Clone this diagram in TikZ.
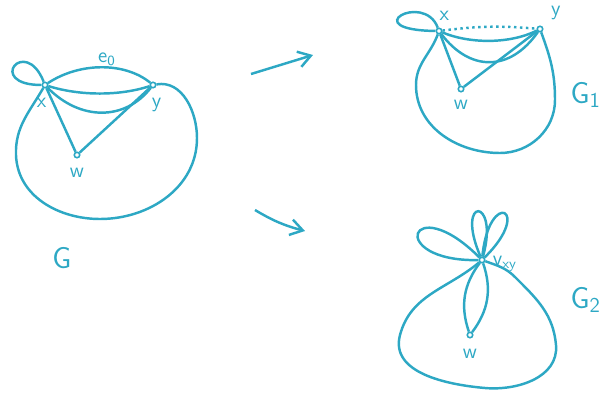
\documentclass[tikz,border=0pt]{standalone}
\usetikzlibrary{arrows.meta, positioning}
\usepackage{xcolor}
\definecolor{ink}{RGB}{45,168,196}

\begin{document}
\begin{tikzpicture}[
  x=0.02cm, y=-0.02cm,
  v/.style={circle, draw=ink, fill=white, inner sep=1.1pt, line width=0.9pt},
  e/.style={draw=ink, line width=1.4pt},
  lbl/.style={text=ink, font=\sffamily\large, inner sep=1pt},
  glbl/.style={text=ink, font=\sffamily\LARGE, inner sep=1pt},
  arr/.style={e, -{Straight Barb[length=7pt, width=9pt]}},
  node distance=4pt,
]
  \useasboundingbox (0,0) rectangle (605,403);

  % graph G
  \node[v] (x) at (45,85) {};
  \node[v] (y) at (153,85) {};
  \node[v] (w) at (77,155) {};
  \node[lbl, below=4pt of x, xshift=-2pt] {x};
  \node[lbl, below=4pt of y, xshift=2pt] {y};
  \node[lbl, below=4pt of w] {w};
  \node[lbl] (e0) at (107,59) {e\textsubscript{0}};
  \node[glbl] (G) at (62,258) {G};

  \draw[e] (x) .. controls (25,35) and (-15,85) .. (x);
  \draw[e] (x) .. controls (80,62) and (125,62) .. (y);
  \draw[e] (x) .. controls (80,96) and (120,96) .. (y);
  \draw[e] (x) .. controls (80,121) and (125,121) .. (y);
  \draw[e] (x) -- (w);
  \draw[e] (w) -- (y);
  \draw[e] (x) to[out=-120, in=92] (16,155) to[out=-88, in=180] (100,219)
    to[out=0, in=-90] (197,138) to[out=90, in=10] (y);

  % arrows
  \coordinate (a1s) at (251,74);
  \coordinate (a1e) at (313,55);
  \coordinate (a2s) at (255,210);
  \coordinate (a2e) at (305,231);
  \draw[arr] (a1s) -- (a1e);
  \draw[arr] (a2s) to[bend right=8] (a2e);

  % graph G1
  \node[v] (x1) at (439,31) {};
  \node[v] (y1) at (540,29) {};
  \node[v] (w1) at (461,89) {};
  \node[lbl, above=3pt of x1, xshift=3pt] {x};
  \node[lbl, above=2pt of y1, xshift=9pt] {y};
  \node[lbl, below=3pt of w1] {w};
  \node[glbl, anchor=east] (G1) at (603,95) {G\textsubscript{1}};

  \draw[e] (x1) .. controls (424,-9) and (355,30) .. (x1);
  \draw[e, dotted] (x1) to[bend left=6] (y1);
  \draw[e] (x1) .. controls (470,44) and (510,44) .. (y1);
  \draw[e] (x1) .. controls (470,72) and (510,72) .. (y1);
  \draw[e] (x1) -- (w1);
  \draw[e] (w1) -- (y1);
  \draw[e] (x1) to[out=-110, in=90] (416,85) to[out=-90, in=180] (500,153)
    to[out=0, in=-90] (555,100) to[out=90, in=-70] (y1);

  % graph G2
  \node[v] (vxy) at (482,260) {};
  \node[v] (w2) at (470,335) {};
  \node[lbl, right=3pt of vxy, yshift=-2pt] {v\textsubscript{xy}};
  \node[lbl, below=5pt of w2] {w};
  \node[glbl, anchor=east] (G2) at (603,300) {G\textsubscript{2}};

  \draw[e] (vxy) .. controls (410,188) and (385,262) .. (vxy);
  \draw[e] (vxy) .. controls (454,196) and (500,196) .. (vxy);
  \draw[e] (vxy) .. controls (489,188) and (534,209) .. (vxy);
  \draw[e] (vxy) to[bend right=28] (w2);
  \draw[e] (vxy) to[bend left=28] (w2);
  \draw[e] (vxy) to[out=-140, in=75] (400,335) to[out=-105, in=175] (485,388)
    to[out=-5, in=-85] (556,345) to[out=95, in=-45] (515,277)
    to[out=135, in=-20] (vxy);
\end{tikzpicture}
\end{document}
